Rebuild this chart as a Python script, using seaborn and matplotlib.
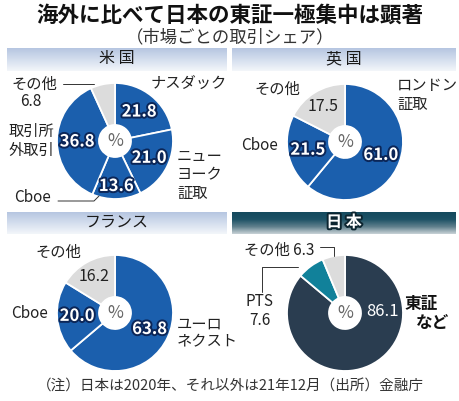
import numpy as np
import matplotlib
matplotlib.use('Agg')
import matplotlib.pyplot as plt
import matplotlib.patheffects as pe
from matplotlib.colors import LinearSegmentedColormap
import seaborn as sns

# shares (%), clockwise from 12 o'clock
us_names = ['ナスダック', 'ニューヨーク証取', 'Cboe', '取引所外取引', 'その他']
us_values = [21.8, 21.0, 13.6, 36.8, 6.8]
uk_names = ['ロンドン証取', 'Cboe', 'その他']
uk_values = [61.0, 21.5, 17.5]
fr_names = ['ユーロネクスト', 'Cboe', 'その他']
fr_values = [63.8, 20.0, 16.2]
jp_names = ['東証など', 'PTS', 'その他']
jp_values = [86.1, 7.6, 6.3]

title = '海外に比べて日本の東証一極集中は顕著'
subtitle = '（市場ごとの取引シェア）'
note = '（注）日本は2020年、それ以外は21年12月（出所）金融庁'

BLUE = '#1b5fad'
GREY = '#dcdcdc'
NAVY = '#2a3d50'
TEAL = '#11819a'
OUTLINE = '#0b2658'

W, H = 460, 401
R_OUT, R_IN = 58, 16
LAB = 11
LS = 1.12

sns.set_theme(style='white')
plt.rcParams['font.family'] = ['Noto Sans CJK JP', 'DejaVu Sans']

fig = plt.figure(figsize=(W / 100, H / 100), dpi=100)
ax = fig.add_axes([0, 0, 1, 1])


def txt(x, y, s, size=LAB, color='#222222', weight='normal', ha='center', stroke=None, **kw):
    t = ax.text(x, H - y, s, fontsize=size, color=color, fontweight=weight,
                ha=ha, va='center', **kw)
    if stroke:
        t.set_path_effects([pe.withStroke(linewidth=2.8, foreground=stroke)])
    return t


def header(x0, x1, y0, y1, label, dark=False):
    if dark:
        cmap = LinearSegmentedColormap.from_list('h', ['#154a5e', '#1d5266', '#5f7f8c', '#c8d2d6'])
    else:
        cmap = LinearSegmentedColormap.from_list('h', ['#b6c6e1', '#d4deee', '#f3f6fa'])
    grad = np.linspace(0, 1, 64).reshape(-1, 1)
    ax.imshow(grad, extent=[x0, x1, H - y1, H - y0], cmap=cmap, aspect='auto',
              origin='upper', zorder=0)
    if dark:
        txt((x0 + x1) / 2, (y0 + y1) / 2 - 1, label, size=11.5, color='white',
            weight='bold', stroke='#0c2530')
    else:
        txt((x0 + x1) / 2, (y0 + y1) / 2 - 1, label, size=11.5, color='#1a1a1a')


def donut(values, colors, cx, cy):
    wedges, _ = ax.pie(values, colors=colors, startangle=90, counterclock=False,
                       center=(cx, H - cy), radius=R_OUT, frame=True,
                       wedgeprops=dict(width=R_OUT - R_IN, edgecolor='white', linewidth=1.3))
    txt(cx, cy, '%', size=12.5, color='#666666')
    return wedges


def value_pos(wedge, cx, cy, r=38):
    ang = np.deg2rad((wedge.theta1 + wedge.theta2) / 2)
    return cx + r * np.cos(ang), cy - r * np.sin(ang)


def inner_label(wedge, cx, cy, val, r=38, dark=False, pos=None):
    x, y = pos if pos else value_pos(wedge, cx, cy, r)
    if dark:
        txt(x, y, f'{val:.1f}', size=11.5, color='#222222')
    else:
        txt(x, y, f'{val:.1f}', size=12, color='white', weight='bold', stroke=OUTLINE)


def leader(xs, ys):
    ax.plot(xs, [H - y for y in ys], color='#333333', lw=0.7, zorder=5)


# title
txt(230, 15, title, size=15.5, color='#111111', weight='bold')
txt(230, 37, subtitle, size=12.5, color='#333333')

# headers
header(7, 227, 48, 71, '米 国')
header(232, 456, 48, 71, '英 国')
header(7, 227, 212, 234, 'フランス')
header(232, 456, 212, 234, '日 本', dark=True)

# --- US
cx, cy = 115, 141
w = donut(us_values, [BLUE, BLUE, BLUE, BLUE, GREY], cx, cy)
inner_label(w[0], cx, cy, us_values[0])
inner_label(w[1], cx, cy, us_values[1])
inner_label(w[2], cx, cy, us_values[2], r=45)
inner_label(w[3], cx, cy, us_values[3])
txt(189, 83, 'ナスダック')
txt(177, 175, 'ニュー\nヨーク\n証取', ha='left', linespacing=LS)
txt(31, 141, '取引所\n外取引', linespacing=LS)
txt(33, 198, 'Cboe')
leader([58, 94, 99], [201, 201, 196])
txt(34, 84, 'その他')
txt(31, 101, f'{us_values[4]:.1f}')
leader([63, 94], [84, 84])

# --- UK
cx, cy = 345, 142
w = donut(uk_values, [BLUE, BLUE, GREY], cx, cy)
inner_label(w[0], cx, cy, uk_values[0])
inner_label(w[1], cx, cy, uk_values[1])
inner_label(w[2], cx, cy, uk_values[2], r=42, dark=True)
txt(397, 95, 'ロンドン\n証取', ha='left', linespacing=LS)
txt(260, 145, 'Cboe')
txt(277, 89, 'その他')

# --- France
cx, cy = 115, 313
w = donut(fr_values, [BLUE, BLUE, GREY], cx, cy)
inner_label(w[0], cx, cy, fr_values[0])
inner_label(w[1], cx, cy, fr_values[1])
inner_label(w[2], cx, cy, fr_values[2], r=42, dark=True)
txt(177, 333, 'ユーロ\nネクスト', ha='left', linespacing=LS)
txt(30, 313, 'Cboe')
txt(58, 252, 'その他')

# --- Japan
cx, cy = 345, 313
w = donut(jp_values, [NAVY, TEAL, GREY], cx, cy)
txt(383, 312, f'{jp_values[0]:.1f}', size=12, color='white')
txt(421, 304, '東証', size=12, color='#111111', weight='bold')
txt(433, 323, 'など', size=12, color='#111111', weight='bold')
txt(260, 311, f'PTS\n{jp_values[1]:.1f}', linespacing=LS)
leader([262, 262, 298], [292, 267, 267])
txt(279, 250, f'その他 {jp_values[2]:.1f}')
leader([320, 334, 334], [247, 247, 256])

# note
txt(230, 387, note, size=10.5, color='#333333')

ax.set_xlim(0, W)
ax.set_ylim(0, H)
ax.set_aspect('auto')
ax.axis('off')

fig.savefig('out.png', dpi=100)
plt.close(fig)
